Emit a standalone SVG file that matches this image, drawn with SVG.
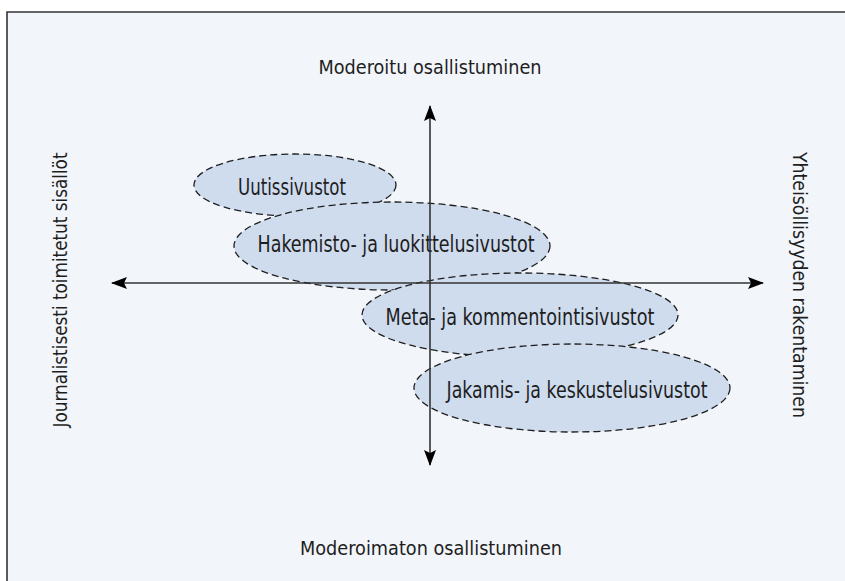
<svg xmlns="http://www.w3.org/2000/svg" width="845" height="581" viewBox="0 0 845 581">
  <style>
    .lbl { font-family: "Liberation Sans Narrow", "DejaVu Sans Condensed", "Liberation Sans", sans-serif; font-size: 23px; fill: #1e1e1e; }
    .axis-lbl { font-family: "Liberation Sans Narrow", "DejaVu Sans Condensed", "Liberation Sans", sans-serif; font-size: 20px; fill: #1e1e1e; }
    .area { fill: #cfdcee; stroke: #1e1e1e; stroke-width: 1.3; stroke-dasharray: 7 4; }
    .axis { stroke: #333; stroke-width: 1.6; fill: none; }
  </style>
  <defs>
    <marker id="head" viewBox="0 0 16 12" refX="15" refY="6" markerWidth="16" markerHeight="12" markerUnits="userSpaceOnUse" orient="auto">
      <path d="M0,0 L16,6 L0,12 L3,6 Z" fill="#000"/>
    </marker>
  </defs>
  <rect x="0" y="0" width="845" height="581" fill="#ffffff"/>
  <!-- frame, open towards the bottom right -->
  <rect x="7" y="12" width="850" height="580" fill="#f2f5fa"/>
  <path d="M7,592 L7,12 L850,12" fill="none" stroke="#333" stroke-width="1.6"/>

  <g id="uutissivustot">
    <ellipse class="area" cx="295" cy="185" rx="101" ry="31"/>
    <text class="lbl" x="292" y="195" text-anchor="middle" textLength="108" lengthAdjust="spacingAndGlyphs">Uutissivustot</text>
  </g>
  <g id="hakemisto">
    <ellipse class="area" cx="392" cy="246" rx="158" ry="44"/>
    <text class="lbl" x="396" y="252" text-anchor="middle" textLength="277" lengthAdjust="spacingAndGlyphs">Hakemisto- ja luokittelusivustot</text>
  </g>
  <g id="meta">
    <ellipse class="area" cx="520" cy="315" rx="158" ry="42"/>
    <text class="lbl" x="520" y="325" text-anchor="middle" textLength="269" lengthAdjust="spacingAndGlyphs">Meta- ja kommentointisivustot</text>
  </g>
  <g id="jakamis">
    <ellipse class="area" cx="572" cy="388" rx="158" ry="44"/>
    <text class="lbl" x="577" y="398" text-anchor="middle" textLength="261" lengthAdjust="spacingAndGlyphs">Jakamis- ja keskustelusivustot</text>
  </g>

  <g id="connectors">
    <line class="axis" x1="430" y1="283" x2="112" y2="283" marker-end="url(#head)"/>
    <line class="axis" x1="430" y1="283" x2="763" y2="283" marker-end="url(#head)"/>
    <line class="axis" x1="430" y1="283" x2="430" y2="106" marker-end="url(#head)"/>
    <line class="axis" x1="430" y1="283" x2="430" y2="465" marker-end="url(#head)"/>
  </g>

  <g id="axis-labels">
    <text class="axis-lbl" x="430" y="74" text-anchor="middle" textLength="223" lengthAdjust="spacingAndGlyphs">Moderoitu osallistuminen</text>
    <text class="axis-lbl" x="431" y="555" text-anchor="middle" textLength="262" lengthAdjust="spacingAndGlyphs">Moderoimaton osallistuminen</text>
    <text class="axis-lbl" transform="translate(67,290) rotate(-90)" text-anchor="middle" textLength="275" lengthAdjust="spacingAndGlyphs">Journalistisesti toimitetut sisällöt</text>
    <text class="axis-lbl" transform="translate(793,285) rotate(90)" text-anchor="middle" textLength="266" lengthAdjust="spacingAndGlyphs">Yhteisöllisyyden rakentaminen</text>
  </g>
</svg>
